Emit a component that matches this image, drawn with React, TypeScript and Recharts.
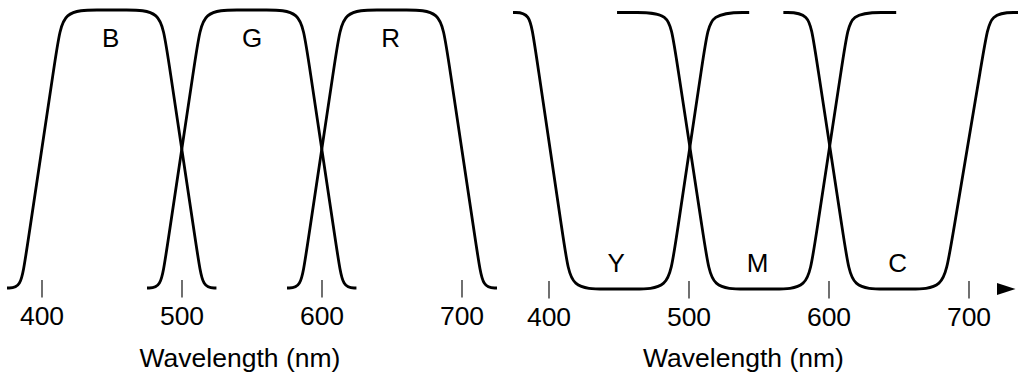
import { LineChart, Line, XAxis, YAxis, ReferenceDot } from "recharts";

const FONT = '"Liberation Sans", Arial, Helvetica, sans-serif';

const wavelengthTicks = [400, 500, 600, 700];

// additive filters, [wavelength nm, transmission 0..1]
const blueCurve = [
  [375, 0], [385, 0], [388.2, 0.107], [410.9, 0.872], [414.7, 1], [440.4, 1],
  [459.3, 1], [485, 1], [488.8, 0.872], [511.5, 0.107], [514.7, 0], [524.6, 0],
];
const greenCurve = [
  [475, 0], [485, 0], [488.2, 0.107], [510.9, 0.872], [514.7, 1], [540.4, 1],
  [559.3, 1], [585, 1], [588.8, 0.872], [611.5, 0.107], [614.7, 0], [624.6, 0],
];
const redCurve = [
  [575, 0], [585, 0], [588.2, 0.107], [610.9, 0.872], [614.7, 1], [640.4, 1],
  [659.3, 1], [685, 1], [688.8, 0.872], [711.5, 0.107], [714.7, 0], [725, 0],
];

// subtractive filters
const yellowCurve = [
  [374.3, 1], [386.4, 1], [389.5, 0.893], [411.8, 0.128], [415.5, 0], [441, 0],
  [460, 0], [485.5, 0], [489.3, 0.128], [511.8, 0.893], [515, 1], [543, 1],
];
const magentaCurve = [
  [448.6, 1], [461, 1], [486, 1], [489.2, 0.893], [512.2, 0.128], [516, 0], [541, 0],
  [560, 0], [585, 0], [588.8, 0.128], [611.8, 0.893], [615, 1], [640, 1], [648, 1],
];
const cyanCurve = [
  [567.4, 1], [586, 1], [589.2, 0.893], [612.2, 0.128], [616, 0], [641, 0],
  [657, 0], [682, 0], [686.2, 0.128], [711.5, 0.893], [715, 1], [735, 1],
];

const additiveNames = ["B", "G", "R"];
const additiveLabelNm = [449, 550, 649];
const subtractiveNames = ["Y", "M", "C"];
const subtractiveLabelNm = [448, 549, 649];

const toPoints = (pairs: number[][]) => pairs.map(([nm, t]) => ({ nm, t }));

function WaveTick({ x, y, payload }: any) {
  return (
    <g>
      <line x1={x} x2={x} y1={y - 8} y2={y + 9.5} stroke="#222" strokeWidth={1.3} />
      <text x={x} y={y + 37} textAnchor="middle" fontSize={26.5} fill="#000" fontFamily={FONT}>
        {payload.value}
      </text>
    </g>
  );
}

const lineProps = {
  type: "basis" as const,
  dataKey: "t",
  stroke: "#000",
  strokeWidth: 2.8,
  dot: false,
  activeDot: false,
  isAnimationActive: false,
};

const labelStyle = { fontSize: 26, fill: "#000", fontFamily: FONT };
const axisLabelStyle = { fontSize: 26.5, fill: "#000", fontFamily: FONT };

export default function App() {
  return (
    <div style={{ position: "absolute", left: 0, top: 0, width: 1018, height: 375, background: "#fff" }}>
      <div style={{ position: "absolute", left: 0, top: 0 }}>
        <LineChart width={504} height={375} margin={{ top: 10, right: 0, bottom: 0, left: 0 }}>
          <XAxis
            type="number"
            dataKey="nm"
            domain={[370, 730]}
            ticks={wavelengthTicks}
            axisLine={false}
            tickLine={false}
            tickSize={0}
            tickMargin={0}
            tick={<WaveTick />}
            height={87}
            label={{ value: "Wavelength (nm)", position: "insideBottom", offset: 8, dx: -12, ...axisLabelStyle }}
          />
          <YAxis hide domain={[0, 1]} />
          <Line {...lineProps} data={toPoints(blueCurve)} />
          <Line {...lineProps} data={toPoints(greenCurve)} />
          <Line {...lineProps} data={toPoints(redCurve)} />
          {additiveNames.map((name, i) => (
            <ReferenceDot
              key={name}
              x={additiveLabelNm[i]}
              y={0.9}
              r={0}
              fill="none"
              stroke="none"
              label={{ value: name, position: "center", ...labelStyle }}
            />
          ))}
        </LineChart>
      </div>
      <div style={{ position: "absolute", left: 507, top: 0 }}>
        <LineChart width={511} height={375} margin={{ top: 12.5, right: 0, bottom: 0, left: 0 }}>
          <defs>
            <marker
              id="wl-arrow"
              markerWidth={20}
              markerHeight={13}
              refX={21}
              refY={6.5}
              orient="auto"
              markerUnits="userSpaceOnUse"
            >
              <path d="M0,0.5 L18.5,6.5 L0,12.5 z" fill="#000" />
            </marker>
          </defs>
          <XAxis
            type="number"
            dataKey="nm"
            domain={[370, 735]}
            ticks={wavelengthTicks}
            axisLine={{ stroke: "none", markerEnd: "url(#wl-arrow)" }}
            tickLine={false}
            tickSize={0}
            tickMargin={0}
            tick={<WaveTick />}
            height={86}
            label={{ value: "Wavelength (nm)", position: "insideBottom", offset: 8, dx: -19, ...axisLabelStyle }}
          />
          <YAxis hide domain={[0, 1]} />
          <Line {...lineProps} data={toPoints(yellowCurve)} />
          <Line {...lineProps} data={toPoints(magentaCurve)} />
          <Line {...lineProps} data={toPoints(cyanCurve)} />
          {subtractiveNames.map((name, i) => (
            <ReferenceDot
              key={name}
              x={subtractiveLabelNm[i]}
              y={0.096}
              r={0}
              fill="none"
              stroke="none"
              label={{ value: name, position: "center", ...labelStyle }}
            />
          ))}
        </LineChart>
      </div>
    </div>
  );
}
